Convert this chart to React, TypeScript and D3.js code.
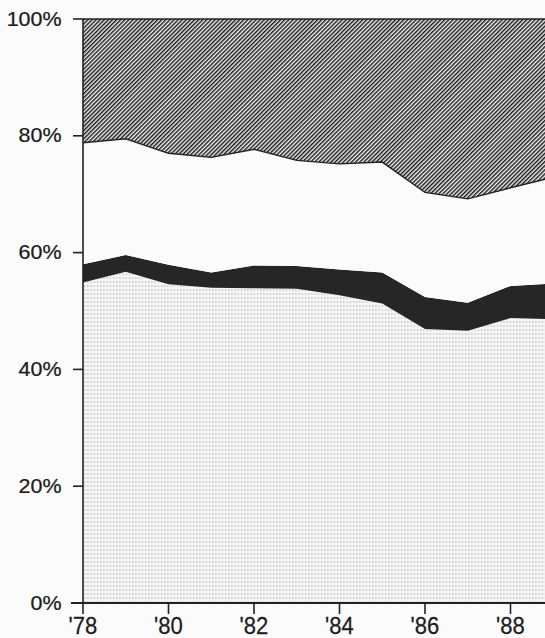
import React from "react";
import * as d3 from "d3";

const years = [1978, 1979, 1980, 1981, 1982, 1983, 1984, 1985, 1986, 1987, 1988, 1989];
const dottedShare = [54.9, 56.7, 54.6, 54.0, 53.9, 53.8, 52.7, 51.3, 46.9, 46.6, 48.8, 48.6];
const darkShare = [3.1, 2.9, 3.3, 2.6, 3.9, 3.9, 4.4, 5.3, 5.5, 4.8, 5.5, 6.1];
const whiteShare = [20.8, 19.9, 19.1, 19.7, 19.9, 18.1, 18.1, 18.9, 17.9, 17.8, 16.8, 18.2];
const hatchShare = [21.2, 20.5, 23.0, 23.7, 22.3, 24.2, 24.8, 24.5, 29.7, 30.8, 28.9, 27.1];

const yTicks = [0, 20, 40, 60, 80, 100];
const yTickLabels = ["0%", "20%", "40%", "60%", "80%", "100%"];
const xTickYears = [1978, 1980, 1982, 1984, 1986, 1988];
const xTickLabels = ["'78", "'80", "'82", "'84", "'86", "'88"];

const W = 545;
const H = 638;

export default function App() {
  const x = d3.scaleLinear().domain([1978, 1989]).range([83, 83 + 42.75 * 11]);
  const y = d3.scaleLinear().domain([0, 100]).range([603, 19]);

  const rows = years.map((yr, i) => ({
    year: yr,
    dotted: dottedShare[i],
    dark: darkShare[i],
    white: whiteShare[i],
    hatch: hatchShare[i],
  }));
  const keys = ["dotted", "dark", "white", "hatch"];
  const series = d3.stack<any>().keys(keys)(rows);

  const area = d3
    .area<any>()
    .x((d) => x(d.data.year))
    .y0((d) => y(d[0]))
    .y1((d) => y(d[1]));
  const edge = d3
    .line<any>()
    .x((d) => x(d.data.year))
    .y((d) => y(d[1]));

  const fills: Record<string, string> = {
    dotted: "url(#dots)",
    dark: "#262626",
    white: "#fbfbfb",
    hatch: "url(#hatch)",
  };

  const font = "'Liberation Sans', Arial, Helvetica, sans-serif";
  const x0 = x(1978);

  return (
    <svg
      width={W}
      height={H}
      style={{ position: "absolute", left: 0, top: 0, background: "#fbfbfb" }}
    >
      <defs>
        <pattern
          id="hatch"
          patternUnits="userSpaceOnUse"
          width={2.9}
          height={10}
          patternTransform="rotate(45)"
        >
          <rect x={0} y={0} width={2.9} height={10} fill="#f0f0f0" />
          <rect x={0} y={0} width={1.45} height={10} fill="#1a1a1a" />
        </pattern>
        <pattern id="dots" patternUnits="userSpaceOnUse" width={3.2} height={4}>
          <rect x={0} y={0} width={3.2} height={4} fill="#f5f5f5" />
          <rect x={1} y={1.5} width={1} height={1} fill="#8a8a8a" />
        </pattern>
      </defs>

      {series.map((s) => (
        <path key={s.key} d={area(s) || ""} fill={fills[s.key]} stroke="none" />
      ))}
      <path d={edge(series[2]) || ""} fill="none" stroke="#222" strokeWidth={1.4} />
      <path d={edge(series[3]) || ""} fill="none" stroke="#222" strokeWidth={1.6} />

      {/* Y axis */}
      <line x1={x0} x2={x0} y1={y(100)} y2={y(0)} stroke="#222" strokeWidth={1.6} />
      {yTicks.map((t, i) => (
        <g key={t}>
          <line x1={x0 - 10} x2={x0} y1={y(t)} y2={y(t)} stroke="#222" strokeWidth={1.6} />
          <text
            transform={`translate(61.5, ${y(t) + 6.5}) scale(1.1,1)`}
            textAnchor="end"
            fontFamily={font}
            fontSize={19.5}
            fill="#1c1c1c"
            stroke="#1c1c1c"
            strokeWidth={0.25}
          >
            {yTickLabels[i]}
          </text>
        </g>
      ))}

      {/* X axis */}
      <line x1={71} x2={W} y1={y(0)} y2={y(0)} stroke="#222" strokeWidth={1.8} />
      {xTickYears.map((t, i) => (
        <g key={t}>
          <line x1={x(t)} x2={x(t)} y1={y(0)} y2={y(0) + 11} stroke="#222" strokeWidth={1.6} />
          <text
            transform={`translate(${x(t)}, 634) scale(0.92,1)`}
            textAnchor="middle"
            fontFamily={font}
            fontSize={24}
            fill="#1c1c1c"
            stroke="#1c1c1c"
            strokeWidth={0.25}
          >
            {xTickLabels[i]}
          </text>
        </g>
      ))}
    </svg>
  );
}
